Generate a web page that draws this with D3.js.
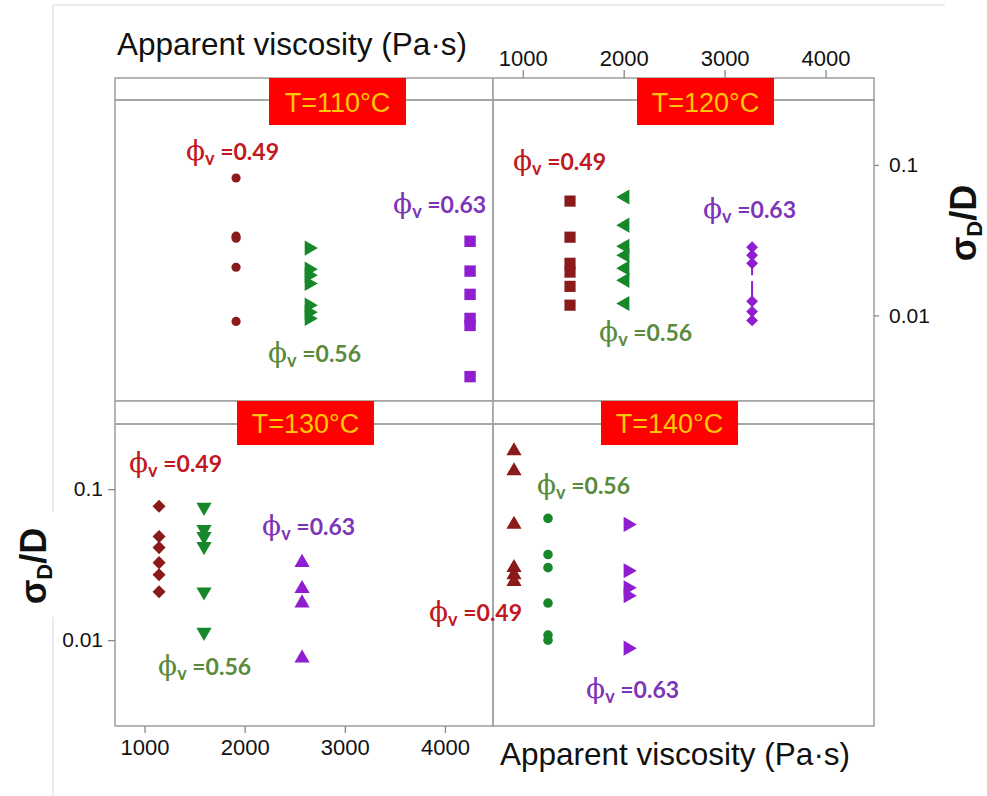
<!DOCTYPE html>
<html><head><meta charset="utf-8">
<script src="https://cdn.jsdelivr.net/npm/d3@7"></script>
<style>body{margin:0;background:#fff} svg{display:block}</style>
</head><body><svg id="c" width="987" height="796"></svg>
<script>
// ---------- data ----------
const panelLabels = ["T=110°C", "T=120°C", "T=130°C", "T=140°C"];
const phiLevels = ["0.49", "0.56", "0.63"];
const xTicks = [1000, 2000, 3000, 4000];
const yTicks = [0.1, 0.01];
const yTickLabels = ["0.1", "0.01"];
const xTitle = "Apparent viscosity (Pa·s)";

// apparent viscosity (Pa·s) of each φv level, per temperature
const visc110 = [1914, 2643, 4251];
const visc120 = [1468, 2013, 3272];
const visc130 = [1145, 1594, 2573];
const visc140 = [913, 1250, 2043];

// σD/D values
const sd110_049 = [0.0819, 0.0336, 0.0326, 0.0209, 0.00912];
const sd110_056 = [0.0280, 0.0203, 0.0185, 0.0163, 0.0117, 0.0105, 0.00955];
const sd110_063 = [0.0311, 0.0197, 0.0138, 0.00955, 0.00858, 0.00392];
const sd120_049 = [0.0575, 0.0331, 0.0222, 0.0194, 0.0156, 0.0117];
const sd120_056 = [0.0612, 0.0398, 0.0288, 0.0251, 0.0206, 0.0171, 0.0120];
const sd120_063 = [0.0284, 0.0251, 0.0222, 0.0124, 0.0106, 0.00926];
const err120_063 = [[0.0185, 0.0222], [0.0124, 0.0169]];
const sd130_049 = [0.077, 0.0486, 0.041, 0.0326, 0.0271, 0.0209];
const sd130_056 = [0.0759, 0.0541, 0.0486, 0.0417, 0.0209, 0.0113];
const sd130_063 = [0.0326, 0.0219, 0.0176, 0.00759];
const sd140_049 = [0.179, 0.132, 0.0584, 0.0302, 0.0271, 0.0244];
const sd140_056 = [0.064, 0.0369, 0.0302, 0.0176, 0.0108, 0.0100];
const sd140_063 = [0.0584, 0.0288, 0.0222, 0.0197, 0.00885];

// annotation anchors [viscosity, σD/D] for φv labels (order 0.49, 0.56, 0.63)
const note110 = [[1414, 0.122], [2233, 0.00558], [3482, 0.0541]];
const note120 = [[903, 0.105], [1756, 0.00759], [2786, 0.0501]];
const note130 = [[845, 0.147], [1135, 0.0066], [2174, 0.0558]];
const note140 = [[71, 0.0151], [1141, 0.105], [1627, 0.00464]];

// ---------- layout / style ----------
const svg = d3.select("#c");
const W = 987, H = 796;
const colX = [[115, 493], [493, 874]];
const rows = [{strip: [78, 100], plot: [100, 401]}, {strip: [401, 424], plot: [424, 726]}];
const stripBoxLeft = [154, 144, 122, 108];
const markerCol = ["#8b1a1a", "#17882a", "#8e1ed0"];
const labelCol = ["#c0191f", "#5a8a3c", "#7d35b8"];
const frameCol = "#a3a3a3";

const panels = [
  {visc: visc110, sd: [sd110_049, sd110_056, sd110_063], notes: note110,
   shapes: [["circle", 0, 66], ["triangle", 90, 100], ["square", 0, 130]]},
  {visc: visc120, sd: [sd120_049, sd120_056, sd120_063], notes: note120, err: err120_063,
   shapes: [["square", 0, 125], ["triangle", -90, 100], ["square", 45, 70]]},
  {visc: visc130, sd: [sd130_049, sd130_056, sd130_063], notes: note130,
   shapes: [["square", 45, 85], ["triangle", 180, 100], ["triangle", 0, 100]]},
  {visc: visc140, sd: [sd140_049, sd140_056, sd140_063], notes: note140,
   shapes: [["triangle", 0, 100], ["circle", 0, 72], ["triangle", 90, 100]]}
];
const symType = {circle: d3.symbolCircle, square: d3.symbolSquare, triangle: d3.symbolTriangle};

svg.append("rect").attr("width", W).attr("height", H).attr("fill", "#fff");
// faint page border
svg.append("line").attr("x1", 53).attr("x2", 945).attr("y1", 5).attr("y2", 5)
  .attr("stroke", "#e6e6e6").attr("stroke-width", 1.5);
svg.append("line").attr("x1", 53).attr("x2", 53).attr("y1", 5).attr("y2", H)
  .attr("stroke", "#e6e6e6").attr("stroke-width", 1.5);

const xDomain = [705, 4480];
const yDomain = [0.0027, 0.27];

panels.forEach((p, i) => {
  const c = i % 2, r = Math.floor(i / 2);
  const [x0, x1] = colX[c];
  const row = rows[r];
  const x = d3.scaleLinear().domain(xDomain).range([x0, x1]);
  const y = d3.scaleLog().domain(yDomain).range([row.plot[1], row.plot[0]]);
  p.x = x; p.y = y;
  const g = svg.append("g");
  g.append("rect").attr("x", x0).attr("y", row.strip[0]).attr("width", x1 - x0)
    .attr("height", row.strip[1] - row.strip[0]).attr("fill", "#fff")
    .attr("stroke", frameCol).attr("stroke-width", 1.6);
  g.append("rect").attr("x", x0).attr("y", row.plot[0]).attr("width", x1 - x0)
    .attr("height", row.plot[1] - row.plot[0]).attr("fill", "none")
    .attr("stroke", frameCol).attr("stroke-width", 1.6);

  if (p.err) {
    g.selectAll(".err").data(p.err).join("line")
      .attr("x1", x(p.visc[2])).attr("x2", x(p.visc[2]))
      .attr("y1", d => y(d[0])).attr("y2", d => y(d[1]))
      .attr("stroke", markerCol[2]).attr("stroke-width", 2);
  }
  p.sd.forEach((vals, s) => {
    const [shape, rot, size] = p.shapes[s];
    g.selectAll(null).data(vals).join("path")
      .attr("d", d3.symbol().type(symType[shape]).size(size)())
      .attr("transform", d => `translate(${x(p.visc[s])},${y(d)}) rotate(${rot})`)
      .attr("fill", markerCol[s]);
  });
});

// annotations
panels.forEach(p => {
  p.notes.forEach((n, s) => {
    const t = svg.append("text")
      .attr("x", p.x(n[0])).attr("y", p.y(n[1]) + 8)
      .attr("fill", labelCol[s]);
    t.append("tspan").text("ϕ").attr("font-family", "DejaVu Serif")
      .attr("font-size", 28);
    t.append("tspan").text("v").attr("font-family", "Lato").attr("font-weight", 700)
      .attr("font-size", 18).attr("dy", 5);
    t.append("tspan").text(" =" + phiLevels[s]).attr("font-family", "Lato")
      .attr("font-weight", 700).attr("font-size", 23).attr("dy", -5);
  });
});

// strip labels
panels.forEach((p, i) => {
  const c = i % 2, r = Math.floor(i / 2);
  const bx = colX[c][0] + stripBoxLeft[i];
  const by = rows[r].strip[0];
  const bh = r === 0 ? 47 : 44;
  svg.append("rect").attr("x", bx).attr("y", by).attr("width", 137).attr("height", bh)
    .attr("fill", "#ff0000");
  svg.append("text").attr("x", bx + 68.5).attr("y", by + bh / 2 + 10)
    .attr("text-anchor", "middle").attr("font-family", "Liberation Sans")
    .attr("font-size", 27).attr("fill", "#ffc800").text(panelLabels[i]);
});

// axes
const tickFont = "Liberation Sans";
{
  const p = panels[1];
  const ax = svg.append("g").attr("transform", `translate(0,${rows[0].strip[0]})`)
    .call(d3.axisTop(p.x).tickValues(xTicks).tickFormat(d3.format("d")).tickSize(8).tickSizeOuter(0));
  ax.select(".domain").remove();
  ax.selectAll("line").attr("stroke", "#888").attr("stroke-width", 1.3);
  ax.selectAll("text").attr("font-family", tickFont).attr("font-size", 22)
    .attr("fill", "#111").attr("dy", "-0.05em");
}
{
  const p = panels[2];
  const ax = svg.append("g").attr("transform", `translate(0,${rows[1].plot[1]})`)
    .call(d3.axisBottom(p.x).tickValues(xTicks).tickFormat(d3.format("d")).tickSize(7).tickSizeOuter(0));
  ax.select(".domain").remove();
  ax.selectAll("line").attr("stroke", "#888").attr("stroke-width", 1.3);
  ax.selectAll("text").attr("font-family", tickFont).attr("font-size", 22)
    .attr("fill", "#111").attr("dy", "0.85em");
}
{
  const p = panels[1];
  const ax = svg.append("g").attr("transform", `translate(${colX[1][1]},0)`)
    .call(d3.axisRight(p.y).tickValues(yTicks).tickFormat((d, i) => yTickLabels[i]).tickSize(5).tickPadding(10));
  ax.select(".domain").remove();
  ax.selectAll("line").attr("stroke", "#888").attr("stroke-width", 1.3);
  ax.selectAll("text").attr("font-family", tickFont).attr("font-size", 21).attr("fill", "#111");
}
{
  const p = panels[2];
  const ax = svg.append("g").attr("transform", `translate(${colX[0][0]},0)`)
    .call(d3.axisLeft(p.y).tickValues(yTicks).tickFormat((d, i) => yTickLabels[i]).tickSize(7).tickPadding(5));
  ax.select(".domain").remove();
  ax.selectAll("line").attr("stroke", "#888").attr("stroke-width", 1.3);
  ax.selectAll("text").attr("font-family", tickFont).attr("font-size", 21).attr("fill", "#111");
}

// axis titles
svg.append("text").attr("x", 117).attr("y", 55).attr("font-family", "Liberation Sans")
  .attr("font-size", 31.5).attr("fill", "#111").text(xTitle);
svg.append("text").attr("x", 500).attr("y", 765).attr("font-family", "Liberation Sans")
  .attr("font-size", 31.5).attr("fill", "#111").text(xTitle);

function yTitle(tx, ty) {
  const t = svg.append("text").attr("transform", `translate(${tx},${ty}) rotate(-90)`)
    .attr("text-anchor", "middle").attr("font-family", "Liberation Sans")
    .attr("font-weight", 700).attr("font-size", 36).attr("fill", "#111");
  t.append("tspan").text("σ");
  t.append("tspan").text("D").attr("font-size", 22).attr("dy", 6);
  t.append("tspan").text("/D").attr("dy", -6);
}
svg.append("rect").attr("x", 44).attr("y", 512).attr("width", 18).attr("height", 105).attr("fill", "#fff");
yTitle(46, 566);
yTitle(976, 223);
</script></body></html>
